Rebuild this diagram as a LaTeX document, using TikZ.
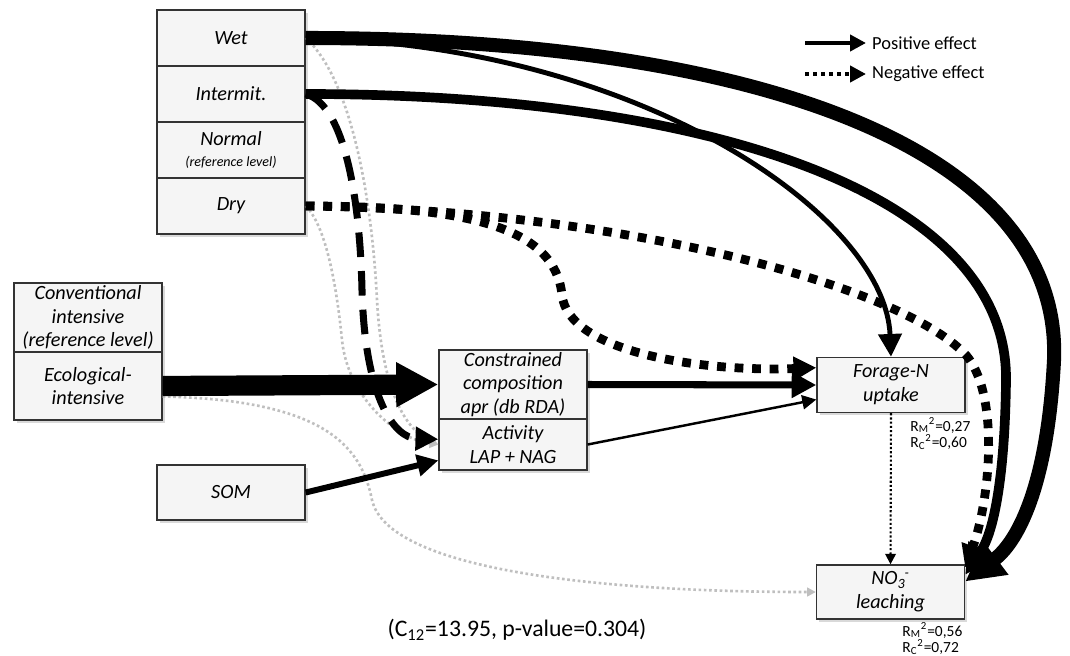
\documentclass[tikz,border=0pt]{standalone}
\usepackage{fontspec}
\setmainfont{Carlito}
\usetikzlibrary{arrows.meta,shadows}

\begin{document}
\begin{tikzpicture}[x=0.02cm,y=-0.02cm,
    box/.style={draw=black!80,fill=black!4,line width=0.8pt,align=center,
      minimum width=2.96cm,inner sep=1pt,font=\itshape\fontsize{11.5}{13.5}\selectfont,
      drop shadow={opacity=0.3,shadow xshift=1.5pt,shadow yshift=-1.5pt}},
    eff/.style n args={2}{line width=#1,-{Triangle[length=#2,width=#2]}},
    sq/.style={line cap=butt,dash pattern=on #1 off #1},
    ns/.style={gray!50,line width=1.5pt,dash pattern=on 1.5pt off 1.5pt,
      -{Triangle[length=5pt,width=5pt]}},
    rsq/.style={font=\fontsize{8.8}{9.5}\selectfont,align=left,anchor=north west,inner sep=0pt}]
  \useasboundingbox (0,0) rectangle (1070,655);
  \foreach[count=\i, evaluate=\i as \yy using {38+56*(\i-1)}] \nm/\txt in
    {wet/Wet,intermit/Intermit.,normal/{Normal\\[-2pt]{\fontsize{8}{9}\selectfont(reference level)}},dry/Dry}
    { \node[box,minimum height=1.12cm] (\nm) at (231,\yy) {\txt}; }
  \node[box,minimum height=1.38cm] (conv) at (88,317.5) {Conventional\\intensive\\(reference level)};
  \node[box,minimum height=1.36cm] (ecol) at (88,386) {Ecological-\\intensive};
  \node[box,minimum height=1.38cm] (constr) at (513,384.5) {Constrained\\composition\\apr (db RDA)};
  \node[box,minimum height=1.02cm] (activity) at (513,444.5) {Activity\\LAP + NAG};
  \node[box,minimum height=1.1cm] (som) at (231,492.5) {SOM};
  \node[box,minimum height=1.1cm] (forage) at (891,385) {Forage-N\\uptake};
  \node[box,minimum height=1.08cm] (nitrate) at (890.5,592) {NO\textsubscript{3}\kern-0.6pt\textsuperscript{-}\\leaching};
  \node[rsq] (rforage) at (910,417) {R\textsubscript{M}\textsuperscript{2}=0,27\\R\textsubscript{C}\textsuperscript{2}=0,60};
  \node[rsq] (rnitrate) at (902,622) {R\textsubscript{M}\textsuperscript{2}=0,56\\R\textsubscript{C}\textsuperscript{2}=0,72};
  \node[font=\fontsize{13.5}{15}\selectfont] (fitidx) at (517,630) {(C\textsubscript{12}=13.95, p-value=0.304)};

  \node[anchor=west,font=\fontsize{10.5}{12}\selectfont] (posleg) at (866,43) {Positive effect};
  \node[anchor=west,font=\fontsize{10.5}{12}\selectfont] (negleg) at (866,74) {Negative effect};
  \coordinate (posstart) at (805,43);
  \coordinate (negstart) at (805,74);
  \draw[eff={2.3pt}{9pt}] (posstart) -- (posleg.west);
  \draw[eff={2.3pt}{9pt},sq=2.3pt] (negstart) -- (negleg.west);

  \draw[ns] (wet.east) .. controls (352,80) and (372,200) .. (377,300) .. controls (382,390) and (405,430) .. (activity.west);
  \draw[ns] (dry.east) .. controls (325,225) and (336,280) .. (342,340) .. controls (348,400) and (400,440) .. (activity.west);
  \draw[ns] (ecol.-8) .. controls (330,400) and (362,450) .. (372,500) .. controls (388,570) and (600,592) .. (nitrate.west);

  \draw[eff={8pt}{22pt}] (wet.east) .. controls (760,38) and (1062,150) .. (1054,360) .. controls (1048,480) and (1020,540) .. (nitrate.8);
  \draw[eff={5.5pt}{17pt}] (intermit.east) .. controls (700,94) and (1008,190) .. (1006,380) .. controls (1005,470) and (995,530) .. (nitrate.13);
  \draw[eff={2.8pt}{13pt}] (wet.east) .. controls (640,45) and (885,215) .. (forage.north);
  \draw[eff={5pt}{13pt},sq=5pt] (dry.east) .. controls (470,206) and (555,228) .. (562,295) .. controls (568,352) and (700,372) .. (forage.167);
  \draw[eff={5pt}{13pt},sq=5pt] (dry.east) .. controls (620,210) and (900,285) .. (966,355) .. controls (1000,395) and (990,500) .. (nitrate.18);
  \draw[eff={4pt}{13pt},dash pattern=on 14pt off 8pt] (intermit.east) .. controls (345,105) and (360,200) .. (362,290) .. controls (365,400) and (395,438) .. (activity.176);
  \draw[eff={11.5pt}{24pt}] (ecol.east) -- (constr.west);
  \draw[eff={4pt}{14pt}] (constr.east) -- (forage.west);
  \draw[eff={1.4pt}{8pt}] (activity.east) -- (forage.191);
  \draw[eff={3.4pt}{12pt}] (som.east) -- (activity.192);
  \draw[eff={1.2pt}{6pt},dash pattern=on 1.2pt off 1.2pt] (forage.south) -- (nitrate.north);
\end{tikzpicture}
\end{document}
